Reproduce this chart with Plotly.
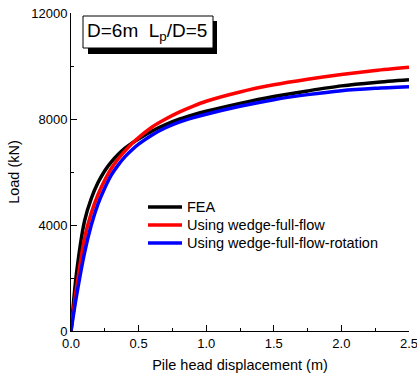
import plotly.graph_objects as go

disp = [0, 0.04, 0.1, 0.15, 0.2, 0.25, 0.3, 0.35, 0.4, 0.45, 0.5, 0.6, 0.7, 0.8, 0.9, 1.0,
        1.25, 1.5, 1.75, 2.0, 2.25, 2.5]
fea = [0, 2150, 4150, 5000, 5600, 6050, 6390, 6670, 6900, 7090, 7250, 7550, 7790, 7990, 8150, 8290,
       8590, 8850, 9060, 9250, 9380, 9480]
wedge_flow = [0, 1600, 3500, 4450, 5150, 5700, 6150, 6500, 6800, 7070, 7300, 7700, 8000, 8260, 8480, 8670,
              9020, 9290, 9500, 9680, 9830, 9950]
wedge_rot = [0, 1300, 2950, 4000, 4800, 5400, 5900, 6270, 6580, 6830, 7050, 7400, 7670, 7880, 8040, 8180,
             8480, 8730, 8920, 9070, 9160, 9220]

names = ["FEA", "Using wedge-full-flow", "Using wedge-full-flow-rotation"]
colors = ["#000000", "#ff0000", "#0000ff"]
series = [fea, wedge_flow, wedge_rot]

FONT = "Arial, 'Liberation Sans', sans-serif"

fig = go.Figure()
for nm, col, ys in zip(names, colors, series):
    fig.add_trace(go.Scatter(x=disp, y=ys, mode="lines", name=nm, showlegend=False,
                             line=dict(color=col, width=3.5, shape="spline", smoothing=0.8)))

L, R, T, B = 71, 8, 13, 45
W, H = 417, 376
pw, ph = W - L - R, H - T - B

def px(x):
    return (x - L) / pw

def py(y):
    return (H - B - y) / ph

fig.update_layout(
    width=W, height=H,
    margin=dict(l=L, r=R, t=T, b=B, pad=0, autoexpand=False),
    paper_bgcolor="white", plot_bgcolor="white",
    font=dict(family=FONT, size=13, color="black"),
    showlegend=False,
    xaxis=dict(range=[0, 2.5], dtick=0.5, tickformat=".1f", showgrid=False, zeroline=False,
               showline=True, linecolor="black", linewidth=1, automargin=False,
               ticks="inside", ticklen=6, tickcolor="black", ticklabeloverflow="allow",
               minor=dict(dtick=0.25, ticks="inside", ticklen=3, tickcolor="black"),
               tickfont=dict(size=13, family=FONT, color="black"),
               title=dict(text="Pile head displacement (m)", font=dict(size=14.5, family=FONT, color="black"),
                          standoff=10)),
    yaxis=dict(range=[0, 12000], dtick=4000, tickformat="d", showgrid=False, zeroline=False,
               showline=True, linecolor="black", linewidth=1, automargin=False,
               ticks="inside", ticklen=6, tickcolor="black",
               minor=dict(dtick=2000, ticks="inside", ticklen=3, tickcolor="black"),
               tickfont=dict(size=13, family=FONT, color="black"),
               title=dict(text="Load (kN)", font=dict(size=14.5, family=FONT, color="black"),
                          standoff=8)),
)

# manual legend
leg_y = [207, 225, 243]
for nm, col, yy in zip(names, colors, leg_y):
    fig.add_shape(type="line", xref="paper", yref="paper",
                  x0=px(148), x1=px(182), y0=py(yy), y1=py(yy),
                  line=dict(color=col, width=3.5))
    fig.add_annotation(xref="paper", yref="paper", x=px(185), y=py(yy),
                       xanchor="left", yanchor="middle", showarrow=False,
                       text=nm, font=dict(family=FONT, size=14.5, color="black"))

# shadowed label box
fig.add_shape(type="rect", xref="paper", yref="paper",
              x0=px(88), x1=px(217), y0=py(54), y1=py(21),
              fillcolor="black", line=dict(color="black", width=0), layer="above")
fig.add_shape(type="rect", xref="paper", yref="paper",
              x0=px(83), x1=px(213), y0=py(48), y1=py(16),
              fillcolor="white", line=dict(color="black", width=1), layer="above")
fig.add_annotation(xref="paper", yref="paper", x=px(85), y=py(32),
                   xanchor="left", yanchor="middle", showarrow=False,
                   text="D=6m\u00a0\u00a0L<sub>p</sub>/D=5",
                   font=dict(family=FONT, size=19, color="black"))

fig.write_html("out.html")
